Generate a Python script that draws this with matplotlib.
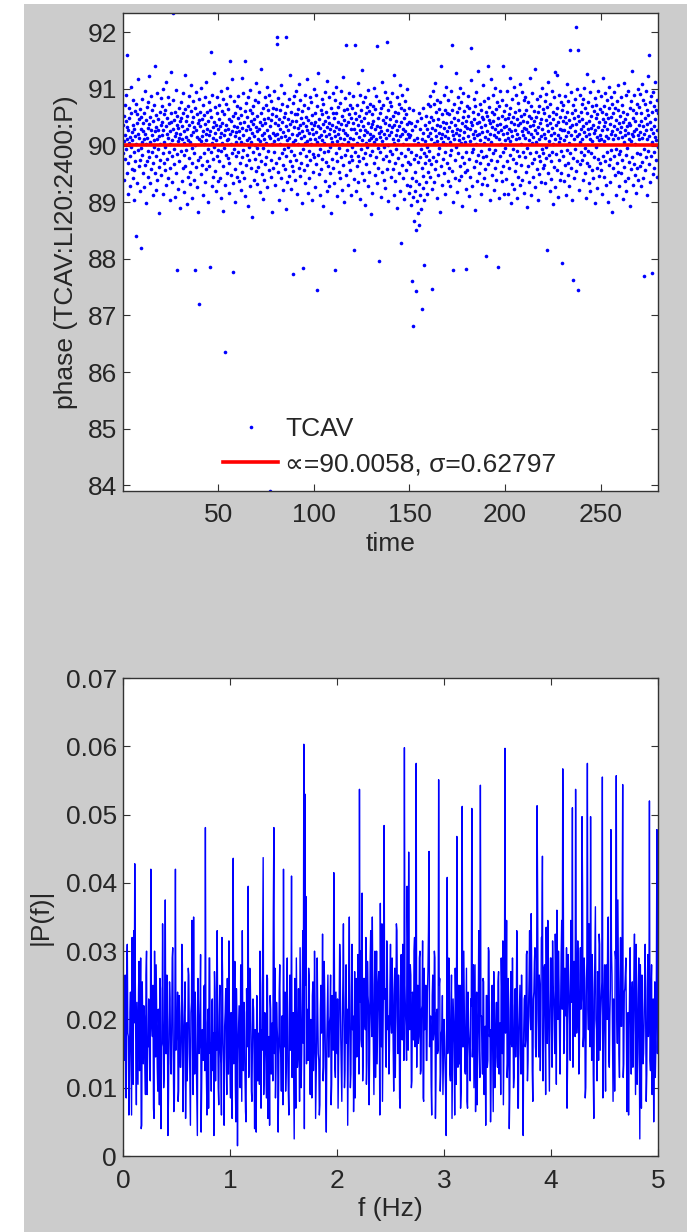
import numpy as np
import matplotlib
matplotlib.use("Agg")
import matplotlib.pyplot as plt
from matplotlib.patches import Rectangle

plt.rcParams['font.family'] = ['Liberation Sans', 'DejaVu Sans']

# ---------------- data ----------------
# phase samples, in hundredths of a degree away from 90 deg, 6 samples per time unit
phase_dev_centi = [
    -14, 37, 52, 8, -61, -23, 71, 19, -6, 44, 90, 33, 160, -48, 12, 27, -85, -30, 5, 66, 48, -19, -72, 15, 103, 58, -3, -41, 24, 9, -57, 80, 36, -12, 29, -96, -44, 61, 17, -28, 73, 2, -159, 40, 55, -66, -8, 21, 118, 46, -37, 13, -80, -25, 64, 30, -5, -181, 51, 7,
    82, -16, 25, -49, 39, 11, -73, 57, 96, 20, -34, 3, 45, -102, -27, 68, 14, -9, 31, -55, 76, 122, 38, -21, 6, -67, 50, 27, -41, 88, -12, 19, 62, -88, -31, 43, 9, -3, 71, -48, 25, 140, 54, -18, -79, 33, 12, -60, 93, 28, -7, 47, -120, -38, 16, 59, 2, -26, 84, 36,
    -52, 18, 69, 41, -13, -86, 27, 100, 55, -30, 7, 63, -44, -2, 35, 112, -70, 21, 48, -24, 86, 14, -58, -11, 39, 74, -97, 26, 3, -39, 57, 130, 42, -19, 10, -64, 29, 234, 81, -7, 45, -33, 16, -91, 60, 22, -48, 98, -220, 37, -15, 52, 8, -76, 31, 67, -28, 13, -110, 44,
    20, 77, -9, 48, -63, 11, 34, -40, 92, 58, -17, 4, -82, 26, 65, 125, -36, 15, 43, -8, -104, 53, 29, -55, 70, 10, -22, 88, 37, -47, 6, -68, 61, 19, 107, -31, 42, -5, -93, 24, 79, 50, -14, -60, 32, -220, 66, 1, -38, 94, 28, -73, 15, 56, -26, 39, -118, 45, 12, 83,
    -280, 35, 59, -21, 8, -50, 101, 47, 16, -34, 72, -87, 25, 3, 54, -13, -65, 38, 85, 21, -42, 9, 113, 60, -28, 30, -6, -99, 44, 77, 18, -37, -214, 63, 26, -11, 166, 51, -71, 5, 90, 33, -24, 14, -56, 41, 128, -3, -45, 68, 22, -81, 36, 10, -19, 57, 86, -62, 29, -8,
    46, -27, 71, 15, -58, 34, 96, -10, 23, -92, 61, 5, 40, -36, 82, -115, 19, 55, -4, 28, -69, -365, 37, 74, -17, 9, -48, 102, 30, -22, 64, 12, -84, 47, -31, 20, 88, 150, -52, 3, 43, -13, 117, 26, -66, -223, 52, -7, 79, 35, -41, 16, -100, 58, 24, -19, 6, 70, -55, 32,
    -11, 48, 87, 25, -63, 13, -30, 66, 39, -78, 7, 54, -21, 120, 31, -46, 18, 92, -8, -57, 42, 3, -89, 61, 150, 27, -35, 75, 10, -16, 50, -107, 34, 85, -26, 14, -3, 63, -71, 29, 98, 44, -40, 6, 57, -126, 22, -12, 70, 38, -60, 17, 46, -24, 81, 1, -45, 110, 33, -5,
    26, -68, 53, 12, 77, -38, 30, -15, 95, 41, -82, 8, 58, -27, 135, 19, -50, 36, 66, -4, -94, 47, 22, -60, 11, 86, 39, -33, 5, 71, -20, 103, -74, 28, 49, -9, 62, -43, 17, 90, 34, -610, 14, -56, 45, 78, -25, 2, -118, 55, 23, -39, 67, 8, -12, 96, 40, -70, 18, 52,
    -31, 64, 20, 191, 179, 37, -47, 11, 84, -22, 46, -96, 29, 3, 62, -58, 106, 15, -14, 41, 73, -34, -79, 24, 50, -6, 92, -41, 17, 58, -112, 192, 35, -18, 69, 9, -64, 27, -2, 47, 83, -53, 13, 38, -28, 124, 60, -9, -76, 21, 44, -37, 6, 75, -45, -227, 32, 88, -16, 55,
    10, -61, 43, 97, -25, 18, 56, -86, 31, 2, 65, -40, 22, 109, -13, -54, 37, 80, -30, 14, 48, -101, 26, 61, -217, -7, 39, 72, -44, 16, 90, 5, -67, 34, 51, -19, 118, 28, -35, 8, -83, 45, 67, -10, 23, -58, 86, 12, -26, 40, 3, 77, -96, 30, 54, -15, 20, -47, 99, 36,
    -20, 58, 11, -74, 42, 89, -33, 24, 6, -255, 70, -17, 35, 128, -50, 15, 47, -6, -88, 31, 63, 19, -41, 82, -23, 9, 55, -106, 38, 73, -12, 26, 4, -63, 95, 44, -29, 17, 60, -80, 33, 114, -9, 51, -37, 21, -72, 40, 85, -2, -48, 29, 66, 13, -119, 37, 7, -24, 58, 92,
    -39, 25, -66, 49, 16, 81, -219, 33, -13, 57, 104, -28, 8, -90, 42, 20, 68, -46, 30, -5, 75, -57, 14, 96, 38, -21, 2, -78, 53, 121, 27, -34, 62, 11, -100, 45, 84, -16, 23, -52, 36, 177, -8, 64, 19, -70, 41, 7, -29, 92, 55, -43, 13, 71, -18, -87, 30, 48, -3, 66,
    -25, 40, 87, 12, -59, -184, 30, 58, -11, 177, 46, -80, 22, 71, -37, 4, 110, -19, 36, -64, 53, 15, -28, 90, -95, 27, 62, -7, 44, -48, 9, 133, 34, -22, 76, -60, 18, 49, -14, 86, -105, 28, 5, 57, -33, 68, -2, 24, -72, 39, 98, 10, -46, 61, 21, -16, 74, -121, 32, 14,
    56, -9, 38, -84, 17, 70, 43, -31, 101, 6, -52, 29, 64, -20, 12, 88, -67, 35, 175, -4, 48, -39, 23, 79, -204, 15, 57, -12, 32, -91, 66, 26, -47, 113, 8, -24, 45, 72, -60, 20, -3, 95, 39, -75, 14, 51, -18, 84, 182, 28, -42, 63, 1, -98, 36, 19, -27, 77, 47, -10,
    24, -56, 69, 33, -15, 92, -41, 11, 52, -88, 37, 125, 4, -30, 60, -63, 18, 44, -7, 85, -111, 27, 58, -22, 9, 73, -49, 34, 16, -80, 106, -172, 42, -13, 66, 21, -35, 90, -58, 30, 3, 48, -94, 62, 25, -19, 79, 12, -44, 55, -70, 38, 99, -6, 20, -29, 67, 41, -83, 15,
    -33, 18, -71, 40, -105, -12, -240, 27, -58, 63, -91, -318, -24, 9, -133, -46, 35, -80, -17, -150, -257, -62, 14, -98, 44, -29, -120, 5, 57, -68, -141, -21, 30, -88, -6, -112, 48, -40, 11, -289, -75, 22, -53, 66, -211, -14, -96, 37, -31, 8, -64, 52, -19, -86, 29, -3, 74, -47, 16, -25,
    41, -10, 69, -55, 23, 88, -33, 12, 50, -76, 31, -253, 96, -20, 45, 4, -64, 73, 27, -41, 110, 16, -28, 59, -93, 36, 8, 81, -15, 47, -52, 22, 65, -4, -118, 34, 77, 13, 140, -37, 56, 20, -69, 42, 7, -24, 90, 31, -48, 17, 63, -11, -85, 39, 104, 2, -30, 58, 25, -62,
    14, 80, -39, 33, 55, -17, 6, -71, 97, 41, -8, 178, 26, 62, -45, 19, -99, -220, 48, 11, 73, -26, 37, -58, 128, 22, -3, 59, -82, 30, 85, -14, 45, 9, -61, 67, 18, -36, 101, 28, -53, 4, 76, -21, 39, -107, 50, 13, 92, -30, 24, 61, -47, 7, 35, -76, -218, 43, -12, 70,
    31, -44, 16, 88, 52, -23, 67, -90, 29, 8, -55, 41, 115, 173, -11, 36, -72, 20, 59, -6, 83, -38, 13, 47, -114, 26, 70, 3, -27, 94, 39, -62, 18, 55, -16, 132, 21, -49, 42, 74, -31, 10, -86, 63, 33, -9, 50, -68, 24, 107, 46, -20, 5, -57, 78, 37, -41, 15, 60, -195,
    -18, 53, 26, -70, 84, 12, 140, -33, 45, -6, 68, -97, 21, 39, 117, -25, 7, 60, -52, 32, -14, 89, 43, -79, 18, 55, -40, 102, 30, -8, 64, -60, 15, 36, -28, 77, -214, 24, 49, -93, 11, 70, -19, 38, 96, -46, 27, 3, -63, 52, 81, -12, 140, 20, -37, 61, -86, 33, 9, 46,
    -4, 71, 35, -59, 22, 97, -27, 48, -85, 13, 56, 30, -40, 120, 8, -16, 66, -101, 42, 25, -68, 83, 17, -23, 51, -6, 38, -77, 104, 28, -45, 60, 11, -31, 89, 47, -92, 21, -9, 75, 36, -55, 14, 63, -18, 109, 40, -70, 2, 52, -35, 26, 94, -61, 19, 44, -12, 80, -83, 31,
    55, -21, 13, 86, -47, 30, 62, -5, -108, 41, 24, 77, -37, 9, 53, -64, 119, 34, -14, 48, -88, 20, 69, -30, 4, 92, 37, -56, 15, 61, -23, 43, -74, 28, 136, -11, 50, 6, -41, 82, 23, -97, 59, 33, -18, 70, -50, 12, 39, -28, 87, -65, 16, 46, -7, 101, 29, -39, 64, -13,
    21, 58, -34, 79, 14, -66, 45, -3, 91, -22, -185, 37, 68, -49, 25, 113, -17, 52, 8, -80, 40, 74, -27, 18, -59, 96, 31, -12, 60, -104, 47, 3, 85, -38, 22, 130, -73, 11, 56, -15, 36, 125, -44, 66, 19, -91, 42, 7, -26, 89, 30, -61, 14, 51, -9, 77, -48, 27, 62, -208,
    43, -19, 72, 28, -63, 10, 88, -35, 51, 17, -87, 39, 108, -8, 60, -52, 24, 79, -30, 45, 4, -71, 168, 33, -14, 94, -40, 19, 57, -96, 36, 71, -22, -237, 48, 12, -58, 82, 26, -7, 63, 210, 38, -45, 16, 99, -28, 168, -255, 53, 21, -78, 44, 6, 90, -33, 59, -11, 30, 74,
    -26, 47, 12, -61, 83, 35, -16, 101, 24, -48, 66, -4, 40, -92, 17, 58, -31, 126, 29, -9, 77, -66, 20, 43, -37, 95, 11, -81, 52, 31, -14, 69, -44, 8, 114, 36, -57, 22, 61, -20, 84, -102, 27, 48, -3, 72, -39, 15, 56, -75, 33, 97, -24, 41, 9, -53, 65, 19, -30, 88,
    12, -43, 60, 27, -85, 46, 119, -19, 35, 70, -56, 8, 92, -28, 42, 17, -70, 55, -11, 81, 30, -99, 49, 14, -35, 66, 103, -23, 38, -64, 21, 85, -8, 50, -117, 26, 73, -40, 11, 58, -18, 94, 34, -52, 19, 67, -6, -88, 45, 29, -31, 78, 13, -47, 62, 107, -15, 39, -72, 24,
    53, -10, 86, 32, -49, 15, 71, -26, 41, -95, 60, 6, -38, 110, 28, -63, 47, 19, -17, 89, -80, 34, 55, -4, 23, -58, 97, 40, -29, 12, 66, -106, 37, 8, 78, -42, 21, 131, -20, 49, -69, 16, 63, -33, 90, 25, -52, 44, 3, -84, 57, 30, -13, 74, -39, 18, 100, -61, 36, 11,
    68, -37, 24, 91, -15, 43, -72, 57, 14, 108, -29, 35, -58, 80, 20, -6, -230, 49, 73, -44, 27, 96, -21, 11, 62, -87, 38, 123, -9, 54, -33, 17, 160, 41, -64, 76, 30, -18, 88, 6, -225, 59, 22, -50, 94, 35, -11, 70, -40, 15, 47, 112, -26, 63, 9, -55, 81, 28, -3, 58,
]
phase_center = 90.0
samples_per_time = 6
mean_phase = 90.0058
sigma_phase = 0.62797

# single-sided spectrum magnitude |P(f)| in units of 1e-4
# bins at f = 0.00, 0.01, ..., 5.00 Hz
spectrum_even_e4 = [
    220, 140, 265, 85, 310, 175, 120, 240, 60, 195, 330, 428, 150, 225, 105, 285, 180, 40, 255, 135, 205, 90, 300, 160, 230,
    115, 420, 190, 250, 55, 170, 280, 130, 215, 75, 245, 160, 340, 100, 205, 150, 265, 30, 185, 230, 120, 290, 145, 80, 420,
    175, 240, 95, 205, 130, 310, 65, 190, 255, 145, 110, 275, 180, 45, 225, 160, 350, 120, 200, 85, 260, 150, 215, 35, 185,
    140, 250, 481, 110, 195, 70, 290, 165, 225, 125, 30, 240, 180, 330, 100, 205, 155, 60, 270, 135, 190, 245, 90, 165, 315,
    125, 210, 55, 436, 170, 105, 245, 15, 190, 140, 280, 80, 160, 225, 120, 50, 195, 395, 135, 255, 95, 175, 215, 40, 150,
    235, 110, 180, 300, 70, 155, 437, 125, 200, 85, 260, 145, 45, 215, 170, 110, 481, 275, 130, 190, 35, 240, 160, 95, 205,
    420, 160, 95, 230, 140, 60, 265, 185, 115, 210, 25, 175, 290, 130, 245, 80, 195, 150, 330, 603, 530, 380, 215, 140, 260,
    90, 180, 235, 125, 300, 55, 165, 210, 140, 75, 250, 190, 110, 285, 160, 35, 220, 145, 195, 265, 105, 170, 415, 130, 240,
    150, 70, 215, 280, 125, 190, 340, 100, 230, 165, 45, 255, 180, 120, 310, 205, 140, 85, 260, 175, 225, 537, 300, 160, 110,
    260, 195, 320, 140, 235, 75, 285, 210, 350, 160, 250, 115, 300, 190, 270, 60, 225, 340, 175, 484, 245, 130, 290, 205, 155,
    310, 180, 245, 95, 275, 200, 330, 150, 230, 70, 295, 170, 255, 598, 210, 140, 320, 445, 185, 265, 110, 235, 300, 160, 575,
    240, 165, 290, 120, 215, 315, 80, 185, 250, 140, 270, 446, 195, 105, 235, 170, 300, 55, 210, 150, 551, 260, 125, 185, 90,
    200, 135, 30, 408, 175, 240, 110, 265, 150, 195, 60, 225, 468, 130, 185, 250, 95, 512, 160, 215, 120, 275, 70, 190, 145,
    230, 509, 165, 100, 280, 190, 75, 215, 155, 543, 205, 120, 255, 170, 45, 235, 140, 300, 185, 110, 250, 65, 205, 160, 225,
    130, 270, 185, 90, 240, 315, 150, 597, 205, 115, 260, 40, 195, 165, 290, 100, 220, 145, 330, 70, 185, 250, 120, 175, 30,
    230, 160, 295, 110, 215, 330, 185, 260, 80, 240, 305, 145, 513, 200, 265, 125, 320, 439, 175, 280, 90, 235, 345, 165, 215,
    290, 130, 250, 190, 325, 105, 240, 300, 170, 220, 345, 567, 150, 275, 205, 70, 295, 230, 140, 335, 510, 195, 260, 537, 180,
    315, 120, 265, 215, 497, 160, 290, 85, 235, 575, 185, 280, 497, 140, 245, 55, 305, 200, 110, 260, 325, 155, 230, 555, 175,
    280, 95, 240, 335, 145, 205, 478, 265, 80, 225, 300, 557, 165, 255, 115, 320, 190, 544, 135, 245, 290, 65, 210, 175, 305,
    120, 255, 185, 325, 90, 230, 150, 290, 25, 215, 265, 135, 195, 310, 80, 245, 175, 520, 125, 280, 205, 50, 255, 160, 478,
    200,
]
# bins at f = 0.005, 0.015, ..., 4.995 Hz
spectrum_odd_e4 = [
    150, 230, 95, 275, 180, 60, 210, 140, 320, 105, 195, 255, 75, 170, 240, 125, 290, 45, 185, 220, 130, 265, 90, 160, 205,
    110, 245, 175, 70, 300, 145, 210, 95, 185, 260, 40, 165, 230, 120, 375, 150, 200, 85, 255, 135, 180, 305, 65, 215, 155,
    190, 80, 235, 130, 170, 280, 105, 225, 55, 195, 150, 265, 115, 210, 345, 90, 175, 240, 140, 30, 220, 160, 295, 100, 185,
    245, 125, 175, 60, 215, 290, 150, 95, 230, 180, 270, 110, 155, 200, 75, 250, 135, 320, 165, 45, 210, 145, 260, 120, 195,
    85, 170, 240, 135, 285, 50, 195, 155, 220, 100, 175, 330, 125, 210, 65, 245, 160, 115, 275, 190, 80, 230, 145, 185, 35,
    220, 160, 105, 250, 185, 300, 90, 210, 140, 265, 55, 175, 235, 120, 195, 360, 150, 85, 225, 170, 110, 280, 145, 205, 75,
    165, 240, 130, 290, 95, 200, 155, 410, 180, 115, 260, 70, 215, 145, 185, 305, 100, 230, 165, 40, 250, 135, 195, 275, 120,
    200, 85, 255, 160, 225, 110, 290, 150, 60, 215, 180, 325, 130, 240, 95, 170, 265, 145, 205, 75, 235, 155, 300, 115, 190,
    230, 140, 310, 175, 80, 255, 195, 125, 280, 215, 160, 350, 100, 240, 185, 65, 270, 205, 145, 295, 120, 225, 170, 385, 150,
    260, 185, 105, 285, 220, 150, 330, 175, 240, 90, 300, 195, 135, 255, 210, 370, 160, 80, 275, 230, 145, 315, 185, 120, 250,
    195, 290, 160, 235, 115, 340, 205, 265, 85, 225, 175, 310, 140, 250, 190, 395, 155, 220, 280, 100, 240, 170, 320, 210, 130,
    250, 175, 300, 125, 220, 85, 275, 190, 140, 240, 330, 160, 205, 60, 265, 180, 290, 110, 215, 155, 250, 95, 180, 235, 140,
    175, 95, 240, 150, 290, 120, 200, 55, 230, 165, 275, 105, 185, 250, 135, 70, 215, 160, 300, 125, 195, 80, 240, 170, 110,
    220, 145, 280, 185, 65, 240, 170, 330, 115, 205, 150, 260, 90, 190, 235, 130, 305, 175, 50, 225, 155, 270, 100, 200, 145,
    255, 120, 195, 290, 150, 75, 230, 180, 345, 135, 215, 95, 270, 160, 200, 115, 245, 185, 310, 70, 220, 150, 265, 125, 180,
    235, 170, 300, 140, 260, 205, 355, 125, 230, 285, 160, 215, 380, 145, 250, 190, 320, 110, 275, 200, 335, 165, 240, 95, 290,
    185, 315, 225, 150, 275, 360, 200, 250, 120, 295, 215, 405, 170, 240, 305, 140, 265, 190, 345, 225, 130, 285, 175, 330, 210,
    270, 145, 305, 230, 390, 175, 260, 100, 285, 215, 340, 160, 245, 295, 120, 230, 365, 185, 270, 140, 310, 205, 255, 85, 225,
    160, 280, 200, 350, 130, 245, 305, 180, 230, 95, 290, 215, 375, 150, 255, 190, 325, 115, 240, 270, 165, 205, 60, 250, 185,
    225, 130, 270, 195, 310, 105, 240, 165, 280, 70, 215, 150, 260, 185, 120, 295, 200, 140, 245, 90, 230, 175, 115, 265, 150,
]
freq_max = 5.0

phase = phase_center + np.array(phase_dev_centi) / 100.0
time = np.arange(1, len(phase) + 1) / samples_per_time

spec_even = np.array(spectrum_even_e4) / 1e4
spec_odd = np.array(spectrum_odd_e4) / 1e4
spectrum = np.empty(len(spec_even) + len(spec_odd))
spectrum[0::2] = spec_even
spectrum[1::2] = spec_odd
freq = np.linspace(0, freq_max, len(spectrum))

# ---------------- figure ----------------
W, H = 697, 1232
fig = plt.figure(figsize=(W / 100, H / 100), dpi=100)
fig.patch.set_facecolor('white')
fig.add_artist(Rectangle((24 / W, 0), 663 / W, 1228 / H, transform=fig.transFigure,
                         facecolor='#cccccc', edgecolor='none', zorder=-10))

FS = 19
TXT = '#262626'

def style(ax):
    ax.tick_params(direction='in', top=True, right=True, length=5, width=0.8,
                   labelsize=FS, colors='#333333', labelcolor=TXT)
    ax.tick_params(axis='x', pad=9)
    ax.tick_params(axis='y', pad=4.5)
    for s in ax.spines.values():
        s.set_color('#333333')
        s.set_linewidth(1.0)
    ax.set_facecolor('white')

# top panel
ax1 = fig.add_axes([123 / W, 1 - 491 / H, 535 / W, 478 / H])
ax1.plot(time, phase, 'o', color='blue', ms=2.6, mew=0, label='TCAV')
ax1.plot([time[0], time[-1]], [mean_phase, mean_phase], color='red', lw=2.6,
         label='\u221d=%.4f, \u03c3=%.5f' % (mean_phase, sigma_phase))
ax1.set_xlim(time.min(), time.max())
ax1.set_ylim(phase.min(), phase.max())
ax1.set_xticks([50, 100, 150, 200, 250])
ax1.set_yticks(range(84, 93))
style(ax1)
ax1.set_xlabel('time', fontsize=FS, color=TXT, labelpad=3)
ax1.set_ylabel('phase (TCAV:LI20:2400:P)', fontsize=FS, color=TXT)
ax1.yaxis.set_label_coords(-0.084, 0.5)
leg = ax1.legend(loc='lower left', bbox_to_anchor=(0.187, 0.03), frameon=False,
                 fontsize=FS, numpoints=1, markerscale=1.0, handlelength=2.1,
                 handletextpad=0.25, labelspacing=0.45, borderpad=0, borderaxespad=0)
for t in leg.get_texts():
    t.set_color(TXT)

# bottom panel
ax2 = fig.add_axes([123 / W, 1 - 1156 / H, 535 / W, 478 / H])
ax2.plot(freq, spectrum, color='blue', lw=1.0)
ax2.set_xlim(0, freq_max)
ax2.set_ylim(0, 0.07)
ax2.set_xticks(range(0, 6))
yt = [0, 0.01, 0.02, 0.03, 0.04, 0.05, 0.06, 0.07]
ax2.set_yticks(yt)
ax2.set_yticklabels(['0'] + ['%.2f' % v for v in yt[1:]])
style(ax2)
ax2.set_xlabel('f (Hz)', fontsize=FS, color=TXT, labelpad=3)
ax2.set_ylabel('|P(f)|', fontsize=FS, color=TXT)
ax2.yaxis.set_label_coords(-0.131, 0.5)

fig.savefig('out.png', dpi=100, facecolor=fig.get_facecolor())
